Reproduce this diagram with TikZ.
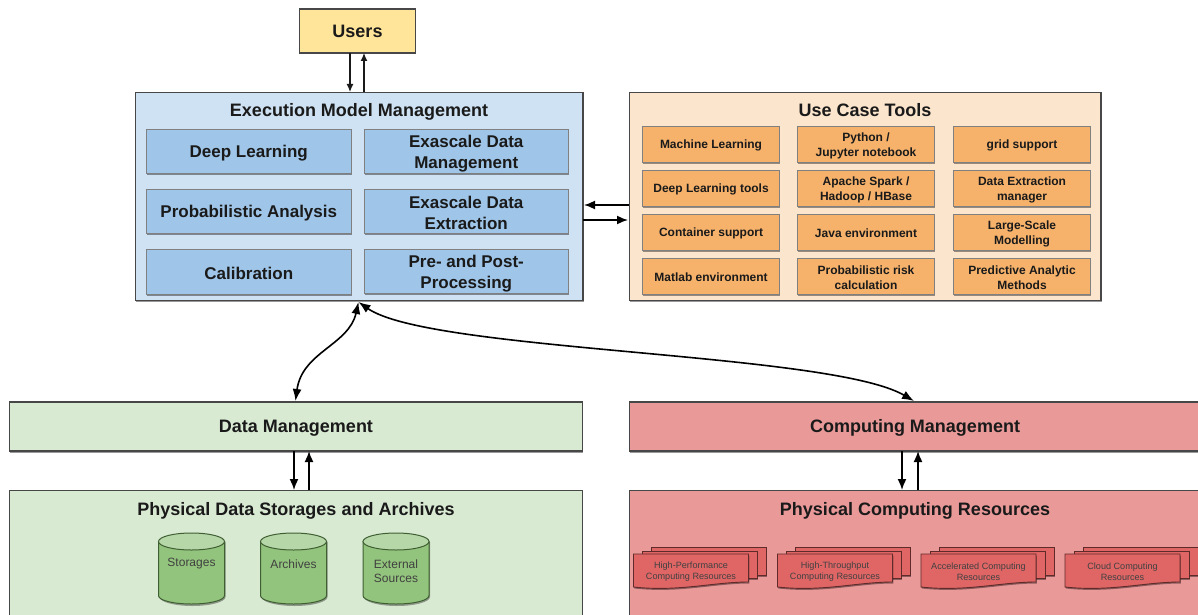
\documentclass[tikz,border=0pt]{standalone}
\usepackage{fontspec}
\setmainfont{Liberation Sans}
\usetikzlibrary{arrows.meta,shadows,calc}
\definecolor{lblue}{HTML}{CFE2F3}
\definecolor{mblue}{HTML}{9FC5E8}
\definecolor{lorange}{HTML}{FCE5CD}
\definecolor{morange}{HTML}{F6B26B}
\definecolor{lgreen}{HTML}{D9EAD3}
\definecolor{mgreen}{HTML}{93C47D}
\definecolor{tgreen}{HTML}{B6D7A8}
\definecolor{dgreen}{HTML}{3F5F33}
\definecolor{lred}{HTML}{EA9999}
\definecolor{mred}{HTML}{E06666}
\definecolor{dred}{HTML}{5E2A2A}
\definecolor{lyellow}{HTML}{FFE599}
\definecolor{ink}{HTML}{1A1A1A}
\tikzset{
  x=1pt,y=-1pt,
  softshadow/.style={general shadow={shadow xshift=0.8pt,shadow yshift=-1.5pt,opacity=0.4,fill=black}},
  panel/.style={draw=black!72,line width=1.2pt,softshadow,inner sep=0pt,outer sep=0pt,anchor=north west,text=ink},
  headfont/.style={font=\bfseries\fontsize{18}{21}\selectfont},
  usersbox/.style={panel,fill=lyellow,headfont},
  ptitle/.style={headfont,text=ink,inner sep=0pt},
  emmbox/.style={draw=black!50,line width=0.9pt,fill=mblue,softshadow,inner sep=0pt,outer sep=0pt,anchor=north west,minimum width=204.5pt,minimum height=44.5pt,align=center,text height=15.5pt,text=ink,font=\bfseries\fontsize{17}{21}\selectfont},
  emmtwo/.style={emmbox,text height=37.5pt},
  ucbox/.style={draw=black!50,line width=0.9pt,fill=morange,softshadow,inner sep=0pt,outer sep=0pt,anchor=north west,minimum width=137pt,minimum height=36pt,align=center,text height=10.5pt,text=ink,font=\bfseries\fontsize{12}{14.5}\selectfont},
  uctwo/.style={ucbox,text height=26pt},
  flow/.style={line width=1.2pt,draw=ink,-{Latex[length=8pt,width=7pt]}},
  flowb/.style={line width=1.6pt,draw=black,-{Latex[length=11pt,width=9pt]}},
  curved/.style={line width=1.6pt,draw=black,{Latex[length=12pt,width=9pt]}-{Latex[length=12pt,width=9pt]}},
  cylline/.style={draw=dgreen,line width=1pt},
  cyltext/.style={font=\fontsize{12}{14.5}\selectfont,text=black!75,align=center,inner sep=0pt},
  sheet/.style={draw=dred,line width=0.9pt,fill=mred},
  doctext/.style={font=\fontsize{9.1}{11}\selectfont,text=black!75,align=center,inner sep=0pt},
}
\newcommand{\docstack}[4]{%
  \draw[sheet,softshadow] (#1+18,547) rectangle (#1+133,575);
  \draw[sheet,softshadow] (#1+9,551) rectangle (#1+124,578.5);
  \draw[sheet,softshadow] (#1,554) -- (#1+115,554) -- (#1+115,582) .. controls (#1+80,582) and (#1+45,592) .. (#1,587) -- cycle;
  \node[doctext] (#2) at (#1+57.5,#3) {#4};
}
\newcommand{\storecyl}[1]{%
  \path[fill=black,opacity=0.35] (#1+1,542) -- (#1+1,597) .. controls (#1+1,602) and (#1+16,606) .. (#1+34,606) .. controls (#1+52,606) and (#1+67,602) .. (#1+67,597) -- (#1+67,542) -- cycle;
  \draw[cylline,fill=mgreen] (#1,541.5) -- (#1,595.5) .. controls (#1,600.5) and (#1+15,604) .. (#1+33,604) .. controls (#1+51,604) and (#1+66,600.5) .. (#1+66,595.5) -- (#1+66,541.5) -- cycle;
  \draw[cylline,fill=tgreen] (#1+33,541.5) ellipse [x radius=33, y radius=8.5];
}
\begin{document}
\begin{tikzpicture}
\useasboundingbox (0,0) rectangle (1198,615);
\fill[white] (0,0) rectangle (1198,615);

\node[usersbox,minimum width=116pt,minimum height=44pt] (users) at (299.5,9) {Users};

\node[panel,fill=lblue,minimum width=447.5pt,minimum height=208pt] (emm) at (135.5,92.5) {};
\node[ptitle] (emmt) at (359,111.5) {Execution Model Management};
\node[emmbox] (dl) at (146.5,129) {Deep Learning};
\node[emmtwo] (edm) at (364,129) {Exascale Data\\Management};
\node[emmbox] (pa) at (146.5,189) {Probabilistic Analysis};
\node[emmtwo] (ede) at (364,189) {Exascale Data\\Extraction};
\node[emmbox] (cal) at (146.5,249.5) {Calibration};
\node[emmtwo] (pp) at (364,249) {Pre- and Post-\\Processing};

\node[panel,fill=lorange,minimum width=471.5pt,minimum height=208pt] (uct) at (629.5,92.5) {};
\node[ptitle] (ucttitle) at (865,110.5) {Use Case Tools};
\node[ucbox] (a1) at (642.5,126.5) {Machine Learning};
\node[ucbox] (a2) at (642.5,170.5) {Deep Learning tools};
\node[ucbox] (a3) at (642.5,214.5) {Container support};
\node[ucbox] (a4) at (642.5,258.5) {Matlab environment};
\node[uctwo] (b1) at (797.5,126.5) {Python /\\Jupyter notebook};
\node[uctwo] (b2) at (797.5,170.5) {Apache Spark /\\Hadoop / HBase};
\node[ucbox] (b3) at (797.5,214.5) {Java environment};
\node[uctwo] (b4) at (797.5,258.5) {Probabilistic risk\\calculation};
\node[ucbox] (c1) at (953.5,126.5) {grid support};
\node[uctwo] (c2) at (953.5,170.5) {Data Extraction\\manager};
\node[uctwo] (c3) at (953.5,214.5) {Large-Scale\\Modelling};
\node[uctwo] (c4) at (953.5,258.5) {Predictive Analytic\\Methods};

\node[panel,fill=lgreen,minimum width=573pt,minimum height=49pt,headfont,text height=16.5pt] (dm) at (9.5,402) {Data Management};
\node[panel,fill=lred,minimum width=571pt,minimum height=49pt,headfont,text height=16.5pt] (cm) at (629.5,402) {Computing Management};

\node[panel,fill=lgreen,minimum width=573pt,minimum height=140pt] (pds) at (9.5,490.5) {};
\node[ptitle] (pdst) at (296,510.5) {Physical Data Storages and Archives};
\node[panel,fill=lred,minimum width=571pt,minimum height=140pt] (pcr) at (629.5,490.5) {};
\node[ptitle] (pcrt) at (915,510.5) {Physical Computing Resources};

\storecyl{158.5}
\storecyl{260.5}
\storecyl{363}
\node[cyltext] (s1t) at (191.5,564) {Storages};
\node[cyltext] (s2t) at (293.5,564) {Archives};
\node[cyltext] (s3t) at (396,571) {External\\Sources};

\docstack{633.5}{d1}{571.5}{High-Performance\\Computing Resources}
\docstack{777.5}{d2}{571.5}{High-Throughput\\Computing Resources}
\docstack{921}{d3}{571.5}{Accelerated Computing\\Resources}
\docstack{1065}{d4}{571.5}{Cloud Computing\\Resources}

% connectors
\coordinate (u1) at (350,53);
\coordinate (e1) at (350,92);
\coordinate (e2) at (364,92);
\coordinate (u2) at (364,53);
\draw[flow] (u1) -- (e1);
\draw[flow] (e2) -- (u2);

\coordinate (ur) at (629,205);
\coordinate (el) at (584,205);
\coordinate (er) at (583,220);
\coordinate (ul) at (628,220);
\draw[flowb] (ur) -- (el);
\draw[flowb] (er) -- (ul);

\coordinate (emb) at (358.5,302);
\coordinate (dmt) at (295.5,401);
\coordinate (cmt) at (914,401);
\draw[curved] (emb) .. controls (349,345) and (302,352) .. (dmt);
\draw[curved] (emb) .. controls (430,352) and (830,352) .. (cmt);

\coordinate (dma) at (294,451);
\coordinate (pa1) at (294,490);
\coordinate (pa2) at (309,490);
\coordinate (dmb) at (309,451);
\draw[flowb] (dma) -- (pa1);
\draw[flowb] (pa2) -- (dmb);

\coordinate (cma) at (902,451);
\coordinate (pb1) at (902,490);
\coordinate (pb2) at (918,490);
\coordinate (cmb) at (918,451);
\draw[flowb] (cma) -- (pb1);
\draw[flowb] (pb2) -- (cmb);
\end{tikzpicture}
\end{document}
